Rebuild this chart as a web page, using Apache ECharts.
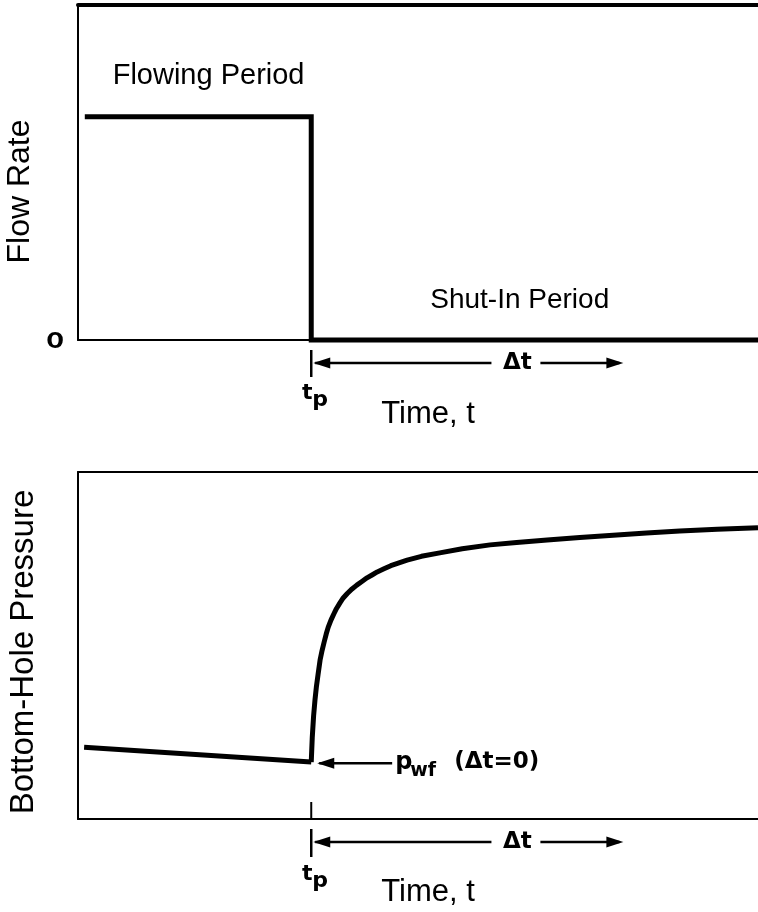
<!DOCTYPE html>
<html><head><meta charset="utf-8">
<script src="https://cdn.jsdelivr.net/npm/echarts@6/dist/echarts.min.js"></script>
<style>html,body{margin:0;padding:0;background:#fff}#c{width:758px;height:912px}</style>
</head><body><div id="c"></div>
<script>
// ---- data (time in arbitrary units 0..100, tp = end of flowing period) ----
const tp = 34.3;
const flowTime = [1.0, 34.3, 34.3, 100];
const flowRate = [1.0, 1.0, 0, 0];
const drawdownTime = [0.9, 34.3];
const drawdownP = [20.7, 16.4];
const buildupTime = [34.3, 34.45, 34.65, 34.85, 35.05, 35.3, 35.6, 35.9, 36.2, 36.5, 36.8, 37.2, 37.6, 38.0, 38.5, 39.0, 39.6, 40.3, 41.0, 41.8, 42.5, 43.3, 44.0, 45.0, 46.0, 47.2, 48.4, 50.5, 53.2, 56.5, 60.6, 64.5, 69.0, 73.8, 78.7, 83.6, 88.5, 94.0, 100];
const buildupP = [16.4, 23.5, 29.8, 34.3, 38.0, 41.6, 45.8, 48.6, 51.0, 53.3, 55.3, 57.3, 59.0, 60.6, 62.2, 63.7, 65.0, 66.3, 67.4, 68.5, 69.5, 70.4, 71.2, 72.1, 73.0, 73.8, 74.6, 75.7, 76.7, 77.9, 79.0, 79.7, 80.4, 81.1, 81.8, 82.4, 83.0, 83.5, 83.9];
const pwfP = 16.1;
const pwfArrowEnd = 46.2;
const dtArrowLeftEnd = 60.8;
const dtLabelT = 64.6;
const dtArrowRight = [68.0, 80.2];
const flowingLabel = {t: 5.1, v: 1.18, text: 'Flowing Period'};
const shutinLabel = {t: 51.8, v: 0.18, text: 'Shut-In Period'};

const chart = echarts.init(document.getElementById('c'), null, {renderer: 'canvas'});
const sans = 'Liberation Sans, Arial, Helvetica, sans-serif';
const mono = 'DejaVu Sans, sans-serif';

function xAx(grid, extra) {
  return Object.assign({
    type: 'value', gridIndex: grid, min: 0, max: 100,
    axisLine: {show: true, onZero: false, lineStyle: {color: '#000', width: 2}},
    axisTick: {show: false}, axisLabel: {show: false}, splitLine: {show: false}
  }, extra || {});
}

const option = {
  animation: false,
  backgroundColor: '#fff',
  grid: [
    {left: 78, top: 5, width: 680, height: 335, containLabel: false, outerBoundsMode: 'none'},
    {left: 78, top: 472, width: 680, height: 347, containLabel: false, outerBoundsMode: 'none'}
  ],
  xAxis: [
    xAx(0, {name: 'Time, t', nameLocation: 'middle', nameGap: 59,
      nameTextStyle: {fontFamily: sans, fontSize: 31, color: '#000', padding: [0, 0, 0, 20]}}),
    xAx(1, {name: 'Time, t', nameLocation: 'middle', nameGap: 58,
      nameTextStyle: {fontFamily: sans, fontSize: 31, color: '#000', padding: [0, 0, 0, 20]}}),
    xAx(0, {position: 'top', axisLine: {show: true, onZero: false, lineStyle: {color: '#000', width: 4}}}),
    xAx(1, {position: 'top'})
  ],
  yAxis: [
    {type: 'value', gridIndex: 0, min: 0, max: 1.5, interval: 1.5,
      name: 'Flow Rate', nameLocation: 'middle', nameGap: 42, nameRotate: 90, nameMoveOverlap: false,
      nameTextStyle: {fontFamily: sans, fontSize: 32, color: '#000', padding: [0, 38, 0, 0]},
      axisLine: {show: true, onZero: false, lineStyle: {color: '#000', width: 2}},
      axisTick: {show: false}, splitLine: {show: false},
      axisLabel: {show: true, margin: 14, fontFamily: sans, fontWeight: 'bold', fontSize: 29, color: '#000',
        formatter: v => v === 0 ? 'o' : ''}},
    {type: 'value', gridIndex: 1, min: 0, max: 100,
      name: 'Bottom-Hole Pressure', nameLocation: 'middle', nameGap: 38, nameRotate: 90,
      nameTextStyle: {fontFamily: sans, fontSize: 33, color: '#000', padding: [0, 13, 0, 0]},
      axisLine: {show: true, onZero: false, lineStyle: {color: '#000', width: 2}},
      axisTick: {show: false}, splitLine: {show: false}, axisLabel: {show: false}},
    {type: 'value', gridIndex: 0, min: 0, max: 1.5, position: 'right',
      axisLine: {show: true, onZero: false, lineStyle: {color: '#d8d8d8', width: 1}},
      axisTick: {show: false}, splitLine: {show: false}, axisLabel: {show: false}}
  ],
  series: [
    {type: 'line', xAxisIndex: 0, yAxisIndex: 0, symbol: 'none', clip: false,
      data: flowTime.map((t, i) => [t, flowRate[i]]),
      lineStyle: {color: '#000', width: 5, join: 'miter', cap: 'butt'}},
    {type: 'line', xAxisIndex: 1, yAxisIndex: 1, symbol: 'none', clip: false,
      data: drawdownTime.map((t, i) => [t, drawdownP[i]]),
      lineStyle: {color: '#000', width: 5, cap: 'butt'}},
    {type: 'line', xAxisIndex: 1, yAxisIndex: 1, symbol: 'none', clip: false,
      data: buildupTime.map((t, i) => [t, buildupP[i]]),
      lineStyle: {color: '#000', width: 5, cap: 'butt', join: 'round'}}
  ]
};
chart.setOption(option);

// ---- annotations positioned through the axes ----
const P0 = (t, v) => chart.convertToPixel({xAxisIndex: 0, yAxisIndex: 0}, [t, v]);
const P1 = (t, v) => chart.convertToPixel({xAxisIndex: 1, yAxisIndex: 1}, [t, v]);
const g = [];
function line(x1, y1, x2, y2, w) {
  g.push({type: 'line', shape: {x1, y1, x2, y2}, style: {stroke: '#000', lineWidth: w || 2.5}, silent: true});
}
function head(xTip, y, dir) { // dir -1: points left, +1: points right
  const L = 17, H = 5.5;
  g.push({type: 'polygon', shape: {points: [[xTip, y], [xTip - dir * L, y - H], [xTip - dir * L, y + H]]},
    style: {fill: '#000'}, silent: true});
}
function text(x, y, s, size, opts) {
  g.push({type: 'text', x, y, silent: true, style: Object.assign({text: s, fontSize: size, fontFamily: sans,
    fill: '#000', align: 'left', verticalAlign: 'middle'}, opts || {})});
}
function dtBlock(P, axisY, tickTop, tickBot, arrowY, tpY) {
  const xTp = P(tp, 0)[0];
  line(xTp, axisY + tickTop, xTp, axisY + tickBot, 2.5);
  const xL = P(dtArrowLeftEnd, 0)[0];
  line(xTp + 4, axisY + arrowY, xL, axisY + arrowY);
  head(xTp + 2, axisY + arrowY, -1);
  text(P(dtLabelT, 0)[0], axisY + arrowY, 'Δt', 23, {fontFamily: mono, fontWeight: 'bold', align: 'center'});
  const xr1 = P(dtArrowRight[0], 0)[0], xr2 = P(dtArrowRight[1], 0)[0];
  line(xr1, axisY + arrowY, xr2 - 4, axisY + arrowY);
  head(xr2, axisY + arrowY, 1);
  text(xTp - 4, axisY + tpY, 't', 22, {fontFamily: mono, fontWeight: 'bold', align: 'center'});
  text(xTp + 9, axisY + tpY + 7, 'p', 22, {fontFamily: mono, fontWeight: 'bold', align: 'center'});
}
const ax0 = P0(0, 0)[1], ax1 = P1(0, 0)[1];
dtBlock(P0, ax0, 10, 37, 23, 53);
dtBlock(P1, ax1, 10, 38, 23, 55);
// tp tick inside lower panel
const xTp1 = P1(tp, 0)[0];
line(xTp1, ax1 - 17, xTp1, ax1, 2);
// pwf arrow
const pw = P1(tp, pwfP), pwE = P1(pwfArrowEnd, pwfP);
line(pw[0] + 8, pw[1], pwE[0], pw[1]);
head(pw[0] + 6, pw[1], -1);
text(pwE[0] + 3, pw[1], 'p', 24, {fontFamily: mono, fontWeight: 'bold'});
text(pwE[0] + 18, pw[1] + 8, 'wf', 19, {fontFamily: mono, fontWeight: 'bold'});
text(pwE[0] + 62, pw[1] - 1, '(Δt=0)', 23, {fontFamily: mono, fontWeight: 'bold'});
// period labels
const fl = P0(flowingLabel.t, flowingLabel.v);
text(fl[0], fl[1], flowingLabel.text, 29);
const sl = P0(shutinLabel.t, shutinLabel.v);
text(sl[0], sl[1], shutinLabel.text, 28);
chart.setOption({graphic: g});
</script></body></html>
